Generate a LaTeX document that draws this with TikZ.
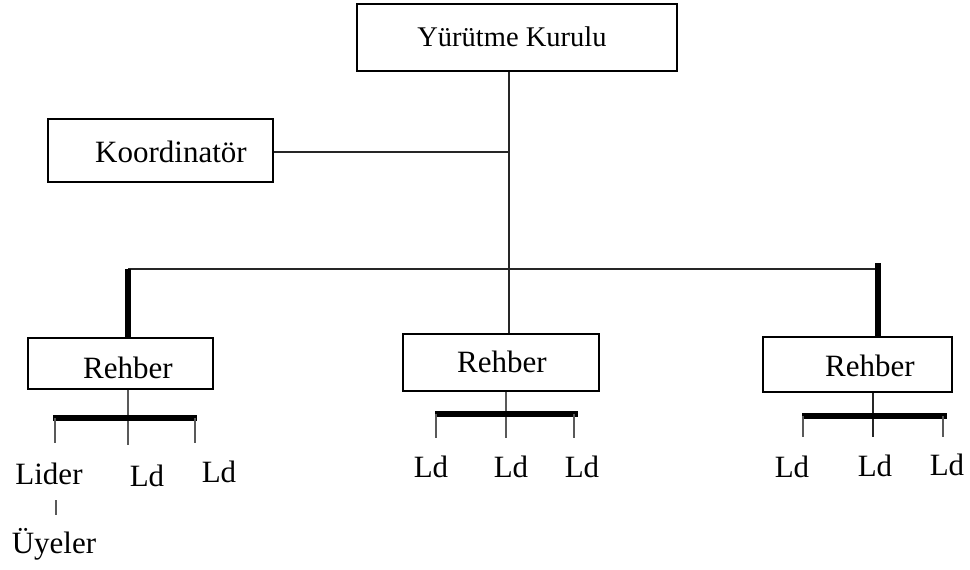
\documentclass[tikz,border=0pt]{standalone}
\usepackage{fontspec}
\setmainfont{Liberation Serif}
\begin{document}
\begin{tikzpicture}[x=1pt,y=-1pt,
  box/.style={draw=black, line width=2pt, rectangle, inner sep=0pt},
  lbl/.style={font=\fontsize{31}{34}\selectfont, inner sep=0pt},
  thin/.style={line width=2pt, draw=black!85},
  thick/.style={line width=5.5pt, draw=black},
  leg/.style={line width=2.6pt, draw=black!65}]
\useasboundingbox (0,0) rectangle (970,570);

% boxes and their titles
\node[box, minimum width=320pt, minimum height=67pt] (yk) at (517,37.5) {};
\node[lbl, font=\fontsize{28.5}{32}\selectfont] at (512,37) {Yürütme Kurulu};
\node[box, minimum width=225pt, minimum height=63pt] (ko) at (160.5,150.5) {};
\node[lbl] at (171,152) {Koordinatör};
\node[box, minimum width=185pt, minimum height=51pt] (r1) at (120.5,363.5) {};
\node[lbl] at (128,368) {Rehber};
\node[box, minimum width=196pt, minimum height=57pt] (r2) at (501,362.5) {};
\node[lbl] at (502,362) {Rehber};
\node[box, minimum width=189pt, minimum height=55pt] (r3) at (857.5,364.5) {};
\node[lbl] at (870,366) {Rehber};

% main connectors
\coordinate (top) at (509,71);
\coordinate (kj) at (509,152);
\coordinate (hl) at (128,269);
\coordinate (hr) at (878,269);
\draw[thin] (yk.south -| top) -- (r2.north -| top);
\draw[thin] (ko.east |- kj) -- (kj);
\draw[thin] (hl) -- (hr);
\draw[thick] (hl) -- (r1.north -| hl);
\draw[thick] (878,263) -- (r3.north -| hr);

% left group
\coordinate (c1) at (128,445);
\draw[leg] (r1.south -| c1) -- (c1);
\draw[thick] (53,418) -- (197,418);
\draw[leg] (55,418) -- (55,443);
\draw[leg] (195,418) -- (195,443);
\node[lbl] (lid) at (49,474) {Lider};
\node[lbl] (l12) at (147,476) {Ld};
\node[lbl] (l13) at (219,472) {Ld};
\coordinate (u1) at (56,500);
\coordinate (u2) at (56,515);
\draw[leg] (u1) -- (u2);
\node[lbl] (uy) at (54,544) {Üyeler};

% middle group
\coordinate (c2) at (506,438);
\draw[leg] (r2.south -| c2) -- (c2);
\draw[thick] (435,414) -- (578,414);
\draw[leg] (436,414) -- (436,438);
\draw[leg] (574,414) -- (574,438);
\node[lbl] (l21) at (431,467) {Ld};
\node[lbl] (l22) at (511,467) {Ld};
\node[lbl] (l23) at (582,467) {Ld};

% right group
\coordinate (c3) at (873,437);
\draw[thin] (r3.south -| c3) -- (c3);
\draw[thick] (802,416) -- (947,416);
\draw[leg] (803,416) -- (803,437);
\draw[leg] (943,416) -- (943,437);
\node[lbl] (l31) at (792,467) {Ld};
\node[lbl] (l32) at (875,466) {Ld};
\node[lbl] (l33) at (947,465) {Ld};
\end{tikzpicture}
\end{document}
